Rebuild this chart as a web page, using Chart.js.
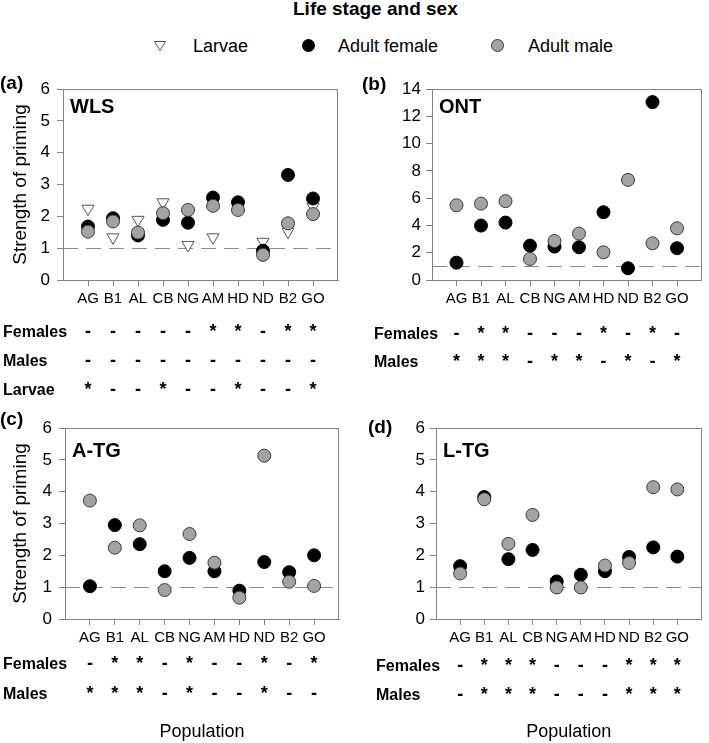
<!DOCTYPE html>
<html>
<head>
<meta charset="utf-8">
<title>Strength of priming by population</title>
<script src="https://cdn.jsdelivr.net/npm/chart.js@4.4.1/dist/chart.umd.min.js"></script>
<style>
    body {
        margin: 0;
        width: 709px;
        height: 743px;
        position: relative;
        overflow: hidden;
        background: #fff;
        font-family: 'Liberation Sans', Arial, sans-serif;
        color: #000;
    }
    .panel { position: absolute; }
    #title {
        position: absolute;
        left: 293px;
        top: -2px;
        font-size: 19px;
        line-height: 22px;
        font-weight: bold;
        white-space: nowrap;
    }
    .leg {
        position: absolute;
        top: 36px;
        font-size: 18px;
        line-height: 20px;
        white-space: nowrap;
    }
    #legendMarks { position: absolute; left: 0; top: 0; }
</style>
</head>
<body>

<div id="title">Life stage and sex</div>
<svg id="legendMarks" width="709" height="60">
    <polygon points="154.5,41.5 165.5,41.5 160,50.5" fill="#fff" stroke="#555" stroke-width="1"/>
    <circle cx="308.5" cy="45.5" r="6.5" fill="#000"/>
    <circle cx="497.5" cy="45.5" r="6" fill="#a3a3a3" stroke="#3a3a3a" stroke-width="1"/>
</svg>
<span class="leg" style="left:193px">Larvae</span>
<span class="leg" style="left:338px">Adult female</span>
<span class="leg" style="left:528px">Adult male</span>

<canvas id="panelA" class="panel" width="354" height="345" style="left:0;top:60px;width:354px;height:345px"></canvas>
<canvas id="panelB" class="panel" width="354" height="345" style="left:355px;top:60px;width:354px;height:345px"></canvas>
<canvas id="panelC" class="panel" width="354" height="343" style="left:0;top:400px;width:354px;height:343px"></canvas>
<canvas id="panelD" class="panel" width="354" height="343" style="left:355px;top:400px;width:354px;height:343px"></canvas>

<script>
// ============================================
// DATA
// ============================================

const populations = ['AG', 'B1', 'AL', 'CB', 'NG', 'AM', 'HD', 'ND', 'B2', 'GO'];

// (a) WLS
const wlsLarvae = [2.24, 1.34, 1.89, 2.44, 1.10, 1.34, 2.32, 1.20, 1.52, 2.30];
const wlsFemale = [1.68, 1.94, 1.40, 1.89, 1.80, 2.59, 2.44, 0.92, 3.30, 2.56];
const wlsMale = [1.52, 1.84, 1.49, 2.10, 2.20, 2.33, 2.20, 0.79, 1.78, 2.07];

// (b) ONT
const ontFemale = [1.27, 3.99, 4.21, 2.52, 2.45, 2.40, 4.97, 0.86, 13.04, 2.33];
const ontMale = [5.48, 5.60, 5.78, 1.54, 2.86, 3.40, 2.03, 7.34, 2.69, 3.79];

// (c) A-TG
const atgFemale = [1.03, 2.95, 2.35, 1.50, 1.92, 1.50, 0.89, 1.79, 1.47, 2.00];
const atgMale = [3.72, 2.24, 2.94, 0.91, 2.67, 1.77, 0.67, 5.13, 1.17, 1.04];

// (d) L-TG
const ltgFemale = [1.66, 3.83, 1.88, 2.17, 1.18, 1.39, 1.50, 1.95, 2.25, 1.96];
const ltgMale = [1.43, 3.76, 2.36, 3.27, 0.99, 0.99, 1.68, 1.76, 4.14, 4.07];

// y tick labels
const ticksSix = [0, 1, 2, 3, 4, 5, 6];
const ticksOnt = [0, 2, 4, 6, 8, 10, 12, 14];

// no priming reference
const refValue = 1;

// significance marks under each panel
const wlsSigFemales = ['-', '-', '-', '-', '-', '*', '*', '-', '*', '*'];
const wlsSigMales = ['-', '-', '-', '-', '-', '-', '-', '-', '-', '-'];
const wlsSigLarvae = ['*', '-', '-', '*', '-', '-', '*', '-', '-', '*'];
const ontSigFemales = ['-', '*', '*', '-', '-', '-', '*', '-', '*', '-'];
const ontSigMales = ['*', '*', '*', '-', '*', '*', '-', '*', '-', '*'];
const atgSigFemales = ['-', '*', '*', '-', '*', '-', '-', '*', '-', '*'];
const atgSigMales = ['*', '*', '*', '-', '*', '-', '-', '*', '-', '-'];
const ltgSigFemales = ['-', '*', '*', '*', '-', '-', '-', '*', '*', '*'];
const ltgSigMales = ['-', '*', '*', '*', '-', '-', '-', '*', '*', '*'];

// ============================================
// STYLE
// ============================================

const FONT = "'Liberation Sans', Arial, sans-serif";
const AXIS_GREY = '#808080';

// ============================================
// PLUGIN: frame, reference line, labels, significance rows
// ============================================

const panelDecor = {
    id: 'panelDecor',
    beforeDatasetsDraw(chart, args, opts) {
        const { ctx, chartArea: a, scales: { y } } = chart;
        const yy = Math.round(y.getPixelForValue(refValue)) + 0.5;
        ctx.save();
        ctx.strokeStyle = '#8c8c8c';
        ctx.lineWidth = 1;
        ctx.setLineDash([15, 8]);
        ctx.beginPath();
        ctx.moveTo(a.left, yy);
        ctx.lineTo(a.right, yy);
        ctx.stroke();
        ctx.restore();
    },
    afterDraw(chart, args, opts) {
        const { ctx, chartArea: a, scales: { x } } = chart;
        ctx.save();

        // top + right side of the box
        ctx.strokeStyle = AXIS_GREY;
        ctx.lineWidth = 1;
        ctx.beginPath();
        ctx.moveTo(Math.round(a.left), Math.round(a.top) + 0.5);
        ctx.lineTo(Math.round(a.right) - 0.5, Math.round(a.top) + 0.5);
        ctx.lineTo(Math.round(a.right) - 0.5, Math.round(a.bottom));
        ctx.stroke();

        ctx.fillStyle = '#000';
        ctx.textBaseline = 'middle';
        ctx.textAlign = 'left';
        ctx.font = 'bold 19px ' + FONT;
        ctx.fillText(opts.tag, opts.tagX, opts.tagY);

        ctx.textBaseline = 'alphabetic';
        ctx.font = 'bold 20px ' + FONT;
        ctx.fillText(opts.name, a.left + 7, a.top + opts.nameDy);

        // significance rows
        opts.rows.forEach((row, r) => {
            const by = a.bottom + opts.rowDy[r];
            ctx.textAlign = 'left';
            ctx.font = 'bold 16px ' + FONT;
            ctx.fillText(row.label, opts.rowX, by);
            ctx.textAlign = 'center';
            ctx.font = 'bold 18px ' + FONT;
            row.marks.forEach((m, i) => {
                ctx.fillText(m, x.getPixelForValue(i + 1), by);
            });
        });
        ctx.restore();
    }
};

function toPoints(values) {
    return values.map((v, i) => ({ x: i + 1, y: v }));
}

// ============================================
// PANEL FACTORY
// ============================================

function makePanel(id, cfg) {
    // first dataset is painted last, so males sit on top
    const datasets = [
        {
            label: 'Adult male',
            data: toPoints(cfg.male),
            pointStyle: 'circle',
            pointRadius: 6.5,
            backgroundColor: '#a3a3a3',
            borderColor: '#3a3a3a',
            borderWidth: 1
        },
        {
            label: 'Adult female',
            data: toPoints(cfg.female),
            pointStyle: 'circle',
            pointRadius: 6.5,
            backgroundColor: '#000',
            borderColor: '#000',
            borderWidth: 1
        }
    ];
    if (cfg.larvae) {
        datasets.push({
            label: 'Larvae',
            data: toPoints(cfg.larvae),
            pointStyle: 'triangle',
            pointRotation: 180,
            pointRadius: 7,
            backgroundColor: '#fff',
            borderColor: '#555',
            borderWidth: 1
        });
    }

    new Chart(document.getElementById(id), {
        type: 'scatter',
        data: { datasets },
        options: {
            responsive: false,
            animation: false,
            devicePixelRatio: 1,
            events: [],
            layout: { padding: cfg.pad },
            plugins: {
                legend: { display: false },
                tooltip: { enabled: false },
                panelDecor: cfg.decor
            },
            scales: {
                x: {
                    type: 'linear',
                    min: 0,
                    max: populations.length + 1,
                    afterBuildTicks: (s) => { s.ticks = populations.map((p, i) => ({ value: i + 1 })); },
                    afterFit: (s) => { s.height = cfg.xHeight; },
                    grid: { drawOnChartArea: false, drawTicks: true, tickLength: 6, color: AXIS_GREY },
                    border: { display: true, color: AXIS_GREY },
                    ticks: {
                        autoSkip: false,
                        maxRotation: 0,
                        minRotation: 0,
                        padding: 4,
                        color: '#000',
                        font: { family: FONT, size: 15 },
                        callback: (v) => populations[v - 1]
                    },
                    title: {
                        display: !!cfg.xTitle,
                        text: cfg.xTitle || '',
                        color: '#000',
                        font: { family: FONT, size: 18 },
                        padding: { top: 0, bottom: 0 }
                    }
                },
                y: {
                    min: cfg.yTicks[0],
                    max: cfg.yTicks[cfg.yTicks.length - 1],
                    afterBuildTicks: (s) => { s.ticks = cfg.yTicks.map(v => ({ value: v })); },
                    afterFit: (s) => { s.width = cfg.yWidth; },
                    grid: { drawOnChartArea: false, drawTicks: true, tickLength: 6, color: AXIS_GREY },
                    border: { display: true, color: AXIS_GREY },
                    ticks: {
                        padding: cfg.yPad,
                        color: '#000',
                        font: { family: FONT, size: 17 }
                    },
                    title: {
                        display: !!cfg.yTitle,
                        text: cfg.yTitle || '',
                        color: '#000',
                        font: { family: FONT, size: 19 },
                        padding: { top: 9, bottom: 0 }
                    }
                }
            }
        },
        plugins: [panelDecor]
    });
}

// ============================================
// INIT
// ============================================

makePanel('panelA', {
    larvae: wlsLarvae, female: wlsFemale, male: wlsMale,
    yTicks: ticksSix, yTitle: 'Strength of priming',
    pad: { left: 0, top: 29, right: 16, bottom: 0 },
    yWidth: 63, xHeight: 125, yPad: 7,
    decor: {
        tag: '(a)', tagX: 0, tagY: 24, name: 'WLS', nameDy: 24,
        rowX: 3, rowDy: [57, 86, 115],
        rows: [
            { label: 'Females', marks: wlsSigFemales },
            { label: 'Males', marks: wlsSigMales },
            { label: 'Larvae', marks: wlsSigLarvae }
        ]
    }
});

makePanel('panelB', {
    female: ontFemale, male: ontMale,
    yTicks: ticksOnt,
    pad: { left: 0, top: 29, right: 4, bottom: 0 },
    yWidth: 77, xHeight: 125, yPad: 5,
    decor: {
        tag: '(b)', tagX: 7, tagY: 25, name: 'ONT', nameDy: 24,
        rowX: 19, rowDy: [59, 87],
        rows: [
            { label: 'Females', marks: ontSigFemales },
            { label: 'Males', marks: ontSigMales }
        ]
    }
});

makePanel('panelC', {
    female: atgFemale, male: atgMale,
    yTicks: ticksSix, yTitle: 'Strength of priming', xTitle: 'Population',
    pad: { left: 0, top: 28, right: 15, bottom: 0 },
    yWidth: 65, xHeight: 124, yPad: 7,
    decor: {
        tag: '(c)', tagX: 0, tagY: 20, name: 'A-TG', nameDy: 29,
        rowX: 3, rowDy: [50, 80],
        rows: [
            { label: 'Females', marks: atgSigFemales },
            { label: 'Males', marks: atgSigMales }
        ]
    }
});

makePanel('panelD', {
    female: ltgFemale, male: ltgMale,
    yTicks: ticksSix, xTitle: 'Population',
    pad: { left: 0, top: 28, right: 1, bottom: 0 },
    yWidth: 81, xHeight: 124, yPad: 5,
    decor: {
        tag: '(d)', tagX: 13, tagY: 28, name: 'L-TG', nameDy: 29,
        rowX: 21, rowDy: [52, 81],
        rows: [
            { label: 'Females', marks: ltgSigFemales },
            { label: 'Males', marks: ltgSigMales }
        ]
    }
});
</script>
</body>
</html>
